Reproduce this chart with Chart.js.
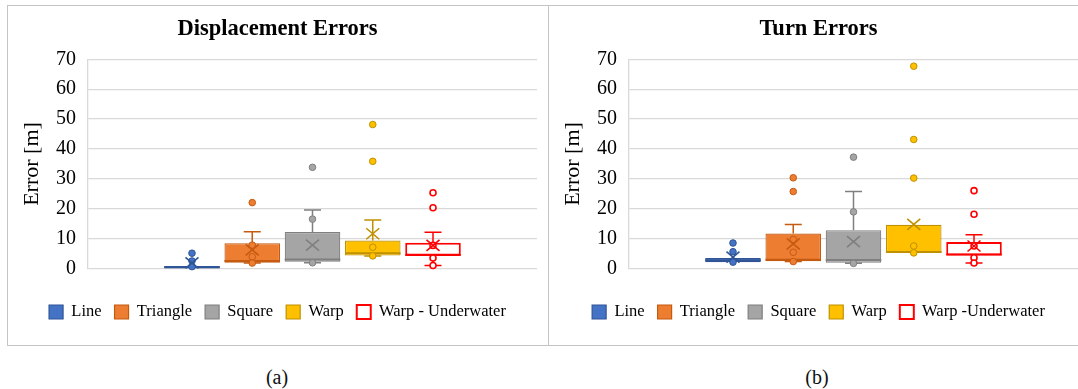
<!DOCTYPE html>
<html>
<head>
<meta charset="utf-8">
<script src="https://cdn.jsdelivr.net/npm/chart.js@4.4.1/dist/chart.umd.min.js"></script>
<style>
  html, body { margin: 0; padding: 0; background: #fff; width: 1078px; height: 389px; overflow: hidden; position: relative;
    font-family: "Liberation Serif", "Times New Roman", serif; }
  .frame { position: absolute; box-sizing: border-box; border: 1px solid #c4c4c4; }
  #frameA { left: 7px; top: 5px; width: 542px; height: 341px; }
  #frameB { left: 548px; top: 5px; width: 600px; height: 341px; }
  canvas { position: absolute; }
  #chartA { left: 7px; top: 5px; }
  #chartB { left: 548px; top: 5px; }
  .cap { position: absolute; top: 365px; font-size: 20px; line-height: 24px; color: #111; transform: translateX(-50%); }
</style>
</head>
<body>
<div class="frame" id="frameA"></div>
<div class="frame" id="frameB"></div>
<canvas id="chartA" width="541" height="340"></canvas>
<canvas id="chartB" width="541" height="340"></canvas>
<div class="cap" style="left:277px">(a)</div>
<div class="cap" style="left:817px">(b)</div>
<script>
// Series shown in both panels
const namesA = ['Line', 'Triangle', 'Square', 'Warp', 'Warp - Underwater'];
const namesB = ['Line', 'Triangle', 'Square', 'Warp', 'Warp -Underwater'];
const yTicks = [0, 10, 20, 30, 40, 50, 60, 70];

// Displacement errors [m]: box statistics per series
const dispQ1     = [0.2, 2.0, 2.3, 4.4, 4.4];
const dispMedian = [0.5, 2.6, 3.1, 5.2, 4.6];
const dispQ3     = [0.9, 8.5, 12.3, 9.4, 8.7];
const dispLow    = [0.2, 1.9, 2.0, 4.3, 1.1];
const dispHigh   = [0.9, 12.4, 19.6, 16.3, 12.2];
const dispMean   = [2.0, 6.3, 7.9, 11.7, 7.8];
const dispPoints = [
  [5.2, 2.6, 0.7],
  [22.1, 7.9, 4.0, 1.9],
  [33.9, 16.6, 2.0],
  [48.2, 35.9, 7.2, 4.3],
  [25.4, 20.4, 7.8, 3.6, 1.1]
];

// Turn errors [m]: box statistics per series
const turnQ1     = [2.2, 2.5, 2.0, 5.3, 4.4];
const turnMedian = [2.8, 3.0, 2.9, 5.6, 4.8];
const turnQ3     = [3.6, 11.8, 12.9, 14.7, 8.9];
const turnLow    = [2.2, 2.4, 1.8, 5.3, 1.9];
const turnHigh   = [3.6, 14.8, 25.8, 14.7, 11.4];
const turnMean   = [3.9, 8.3, 9.1, 14.8, 7.6];
const turnPoints = [
  [8.6, 5.7, 2.2],
  [30.4, 25.8, 9.8, 5.5, 2.4],
  [37.3, 19.0, 1.8],
  [67.7, 43.2, 30.3, 7.6, 5.3],
  [26.1, 18.2, 7.6, 3.7, 1.9]
];

const fills  = ['#4472C4', '#ED7D31', '#A5A5A5', '#FFC000', '#FFFFFF'];
const edges  = ['#2F5597', '#C55A11', '#7F7F7F', '#BF9000', '#FF0000'];
const widths = [1.2, 1.2, 1.2, 1.2, 2];
const SERIF = '"Liberation Serif", "Times New Roman", serif';

// Whiskers, medians, mean crosses and individual points on top of the boxes
const boxDetails = {
  id: 'boxDetails',
  afterDatasetsDraw(chart, args, opts) {
    const ctx = chart.ctx;
    const ys = chart.scales.y;
    const area = chart.chartArea;
    ctx.save();
    ctx.beginPath();
    ctx.rect(area.left, area.top - 6, area.right - area.left, area.bottom - area.top + 12);
    ctx.clip();
    opts.stats.forEach((s, i) => {
      const bar = chart.getDatasetMeta(i).data[0];
      const cx = bar.x, w = bar.width;
      const col = edges[i];
      const py = v => ys.getPixelForValue(v);
      ctx.strokeStyle = col;
      ctx.lineWidth = 1.5;
      // whiskers
      const cap = 8.5;
      const whisk = (from, to) => {
        if (Math.abs(from - to) < 0.05) return;
        ctx.beginPath();
        ctx.moveTo(cx, py(from)); ctx.lineTo(cx, py(to));
        ctx.moveTo(cx - cap, py(to)); ctx.lineTo(cx + cap, py(to));
        ctx.stroke();
      };
      whisk(s.q3, s.high);
      whisk(s.q1, s.low);
      // median
      ctx.lineWidth = 2;
      ctx.beginPath();
      ctx.moveTo(cx - w / 2, py(s.median)); ctx.lineTo(cx + w / 2, py(s.median));
      ctx.stroke();
      // points
      const hollow = i === 4;
      s.points.forEach(v => {
        ctx.beginPath();
        ctx.arc(cx, py(v), hollow ? 3 : 3.3, 0, Math.PI * 2);
        ctx.fillStyle = hollow ? '#FFFFFF' : fills[i];
        ctx.fill();
        ctx.lineWidth = hollow ? 1.6 : 1;
        ctx.strokeStyle = col;
        ctx.stroke();
      });
      // mean cross
      const m = py(s.mean), hx = 6.5, hy = 5.5;
      ctx.lineWidth = 1.6;
      ctx.strokeStyle = col;
      ctx.beginPath();
      ctx.moveTo(cx - hx, m - hy); ctx.lineTo(cx + hx, m + hy);
      ctx.moveTo(cx + hx, m - hy); ctx.lineTo(cx - hx, m + hy);
      ctx.stroke();
    });
    ctx.restore();
  }
};

function buildPanel(id, title, names, q1, median, q3, low, high, mean, points) {
  const stats = names.map((n, i) => ({
    q1: q1[i], median: median[i], q3: q3[i], low: low[i], high: high[i], mean: mean[i], points: points[i]
  }));
  return new Chart(document.getElementById(id), {
    type: 'bar',
    data: {
      labels: [''],
      datasets: names.map((n, i) => ({
        label: n,
        data: [[q1[i], q3[i]]],
        backgroundColor: fills[i],
        borderColor: edges[i],
        borderWidth: widths[i],
        borderSkipped: false,
        categoryPercentage: 0.671,
        barPercentage: 0.922
      }))
    },
    options: {
      responsive: false,
      animation: false,
      layout: { padding: { left: 0, right: 0, top: 0, bottom: 14.75 } },
      scales: {
        x: {
          type: 'category',
          grid: { display: false },
          border: { display: false },
          ticks: { display: false },
          afterFit(s) { s.height = 22; }
        },
        y: {
          min: 0, max: 70,
          afterBuildTicks(s) { s.ticks = yTicks.map(v => ({ value: v })); },
          ticks: { padding: 12, color: '#000', font: { family: SERIF, size: 20 } },
          grid: { color: '#d9d9d9', lineWidth: 1.3, drawTicks: false },
          border: { display: true, color: '#d9d9d9', width: 1.3 },
          title: { display: true, text: 'Error [m]', color: '#000', font: { family: SERIF, size: 22 }, padding: { top: 12, bottom: 0 } },
          afterFit(s) { s.width = 81; }
        },
        pad: {
          type: 'linear',
          position: 'right',
          grid: { display: false },
          border: { display: false },
          ticks: { display: false },
          afterFit(s) { s.width = 11; }
        }
      },
      plugins: {
        title: {
          display: true, text: title, color: '#000',
          font: { family: SERIF, size: 22.5, weight: 'bold' },
          padding: { top: 11, bottom: 16.3 }
        },
        legend: {
          position: 'bottom',
          labels: { boxWidth: 14, boxHeight: 14, padding: 13, color: '#000', font: { family: SERIF, size: 16.5 } }
        },
        tooltip: { enabled: false },
        boxDetails: { stats }
      }
    },
    plugins: [boxDetails]
  });
}

buildPanel('chartA', 'Displacement Errors', namesA, dispQ1, dispMedian, dispQ3, dispLow, dispHigh, dispMean, dispPoints);
buildPanel('chartB', 'Turn Errors', namesB, turnQ1, turnMedian, turnQ3, turnLow, turnHigh, turnMean, turnPoints);
</script>
</body>
</html>
